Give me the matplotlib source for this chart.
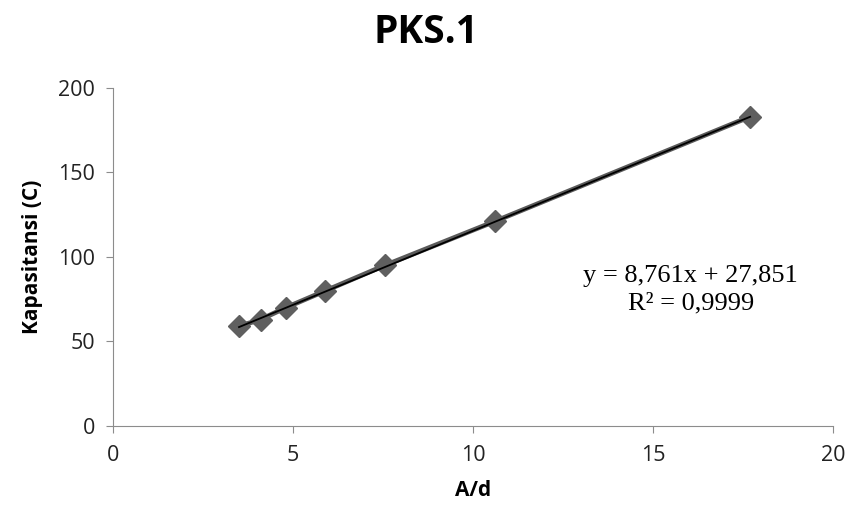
import matplotlib.pyplot as plt
import numpy as np

# data
x = [3.5, 4.1, 4.8, 5.9, 7.55, 10.6, 17.7]
y = [59, 63, 70, 80, 95, 121, 183]
slope = 8.761
intercept = 27.851

plt.rcParams['font.family'] = ['Open Sans', 'DejaVu Sans']

fig = plt.figure(figsize=(8.51, 5.17), dpi=100)
ax = fig.add_axes([0.1328, 0.176, 0.846, 0.654])

ax.plot(x, y, color='#5a5a5a', lw=3.5, marker='D', ms=11, mfc='#5f5f5f', mec='#5f5f5f', zorder=2)
xt = np.array([min(x), max(x)])
ax.plot(xt, slope * xt + intercept, color='black', lw=1.3, zorder=3)

ax.set_xlim(0, 20)
ax.set_ylim(0, 200)
ax.set_xticks([0, 5, 10, 15, 20])
ax.set_yticks([0, 50, 100, 150, 200])
for s in ['top', 'right']:
    ax.spines[s].set_visible(False)
for s in ['left', 'bottom']:
    ax.spines[s].set_color('#8c8c8c')
ax.tick_params(direction='out', length=5, color='#8c8c8c', labelsize=15.5, labelcolor='#222222')
ax.tick_params(axis='x', pad=9)
ax.tick_params(axis='y', pad=8)

ax.set_xlabel('A/d', fontsize=15, fontweight='bold', labelpad=10)
ax.set_ylabel('Kapasitansi (C)', fontsize=15, fontweight='bold', labelpad=11)
fig.suptitle('PKS.1', fontsize=28, fontweight='bold', y=0.975)

ax.text(16.05, 80.5, 'y = 8,761x + 27,851\nR² = 0,9999', family='Liberation Serif',
        fontsize=19, ha='center', va='center', linespacing=1.3)

fig.savefig('out.png', dpi=100)
